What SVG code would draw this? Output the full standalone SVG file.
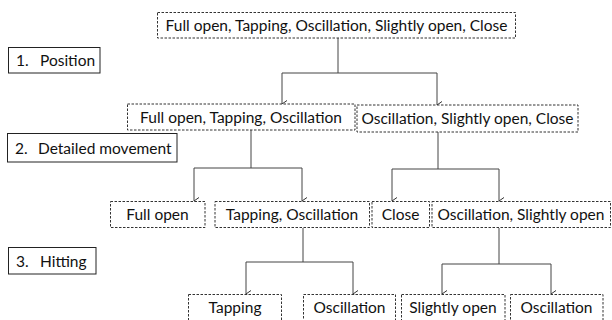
<svg xmlns="http://www.w3.org/2000/svg" width="612" height="320" viewBox="0 0 612 320">
<defs>
<marker id="arr" markerWidth="10" markerHeight="10" refX="5" refY="8" orient="auto" markerUnits="userSpaceOnUse" viewBox="0 0 10 10">
<path d="M1.5,3 L5,8 L8.5,3" fill="none" stroke="#333" stroke-width="1"/>
</marker>
<style>
.d{fill:#fff;stroke:#333;stroke-width:1;stroke-dasharray:2.5,1.5}
.s{fill:#fff;stroke:#222;stroke-width:1}
.t{font-family:Lato,"Open Sans","Liberation Sans",sans-serif;font-size:15.5px;fill:#111;text-anchor:middle;dominant-baseline:central}
.l{text-anchor:start}
.c{fill:none;stroke:#444;stroke-width:1}
.a{marker-end:url(#arr)}
</style>
</defs>
<rect width="612" height="320" fill="#fff"/>
<g id="connectors">
<path class="c" d="M338,38 V73 M282,73 H437"/>
<path class="c a" d="M282,73 V104"/>
<path class="c a" d="M437,73 V105"/>
<path class="c" d="M251,130 V168 M194,168 H302"/>
<path class="c a" d="M194,168 V201"/>
<path class="c a" d="M302,168 V201"/>
<path class="c" d="M438,132 V169 M392,169 H499"/>
<path class="c a" d="M392,169 V201"/>
<path class="c a" d="M499,169 V201"/>
<path class="c" d="M303,228 V262 M246,262 H353"/>
<path class="c a" d="M246,262 V294"/>
<path class="c a" d="M353,262 V294"/>
<path class="c" d="M499,228 V264 M442,264 H551"/>
<path class="c a" d="M442,264 V294"/>
<path class="c a" d="M551,264 V294"/>
</g>
<g id="root"><rect class="d" x="157.5" y="12.5" width="358" height="25.5"/><text class="t" x="336.5" y="25">Full open, Tapping, Oscillation, Slightly open, Close</text></g>
<g id="label1"><rect class="s" x="8.5" y="47.5" width="91.5" height="25.5"/><text class="t l" x="16" y="60">1.</text><text class="t l" x="40" y="60">Position</text></g>
<g id="n2a"><rect class="d" x="127.5" y="104" width="227.5" height="26"/><text class="t" x="241" y="116.5">Full open, Tapping, Oscillation</text></g>
<g id="n2b"><rect class="d" x="357" y="105" width="221" height="27"/><text class="t" x="467.5" y="118">Oscillation, Slightly open, Close</text></g>
<g id="label2"><rect class="s" x="7.5" y="133.5" width="169.5" height="28.5"/><text class="t l" x="15" y="147.5">2.</text><text class="t l" x="38" y="147.5">Detailed movement</text></g>
<g id="n3a"><rect class="d" x="110.5" y="201.5" width="94.5" height="26"/><text class="t" x="157.5" y="214">Full open</text></g>
<g id="n3b"><rect class="d" x="215" y="201.5" width="154.5" height="26"/><text class="t" x="292" y="214">Tapping, Oscillation</text></g>
<g id="n3c"><rect class="d" x="372" y="201.5" width="57.5" height="26"/><text class="t" x="400.5" y="214">Close</text></g>
<g id="n3d"><rect class="d" x="432" y="201.5" width="178.5" height="26"/><text class="t" x="521" y="214">Oscillation, Slightly open</text></g>
<g id="label3"><rect class="s" x="8.5" y="247.5" width="87.5" height="26.5"/><text class="t l" x="16" y="260.5">3.</text><text class="t l" x="40" y="260.5">Hitting</text></g>
<g id="n4a"><rect class="d" x="188.5" y="294.5" width="93" height="30"/><text class="t" x="235" y="307">Tapping</text></g>
<g id="n4b"><rect class="d" x="303.5" y="294.5" width="92" height="30"/><text class="t" x="349.5" y="307">Oscillation</text></g>
<g id="n4c"><rect class="d" x="401.5" y="294.5" width="103.5" height="30"/><text class="t" x="453" y="307">Slightly open</text></g>
<g id="n4d"><rect class="d" x="510.5" y="294.5" width="92.5" height="30"/><text class="t" x="556.5" y="307">Oscillation</text></g>
</svg>
